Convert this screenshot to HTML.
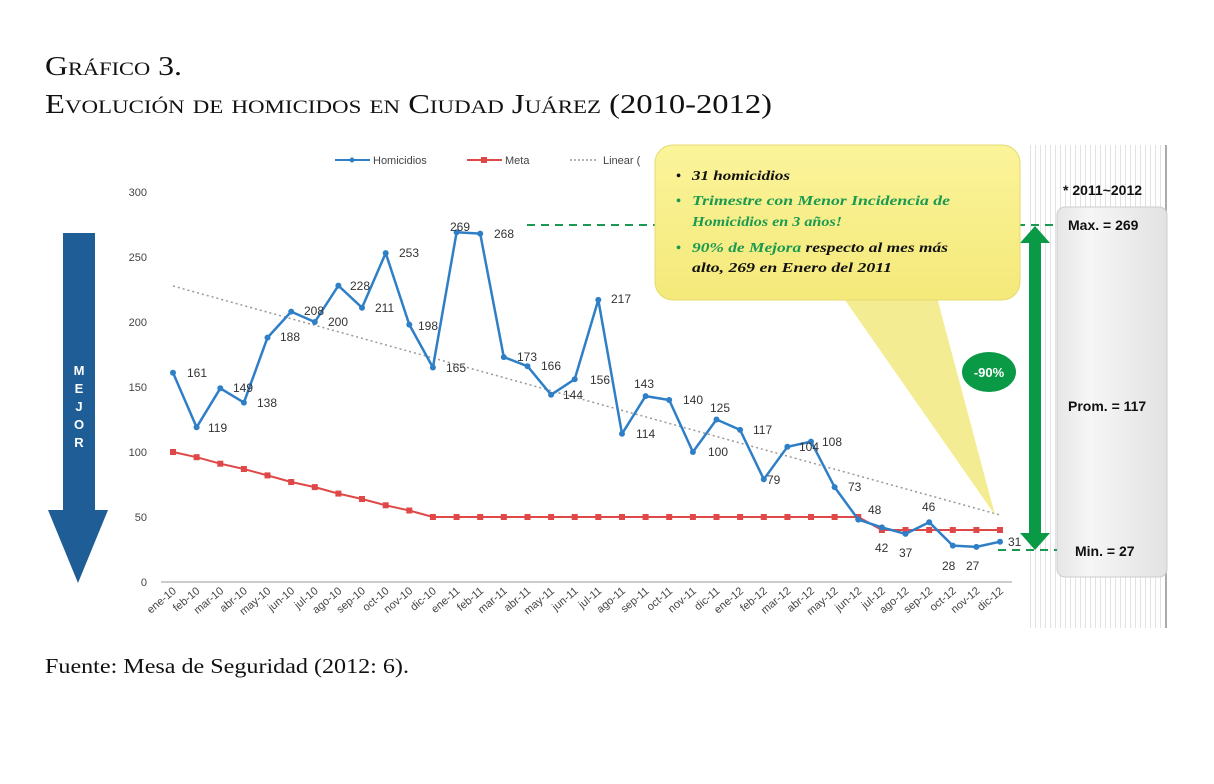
<!DOCTYPE html>
<html><head><meta charset="utf-8"><style>
body{margin:0;background:#fff;width:1214px;height:784px;overflow:hidden}
svg{display:block}
.t{font-family:"Liberation Serif",serif;fill:#111}
.s{font-family:"Liberation Sans",sans-serif}
</style></head><body>
<svg width="1214" height="784" viewBox="0 0 1214 784">
<defs>
<linearGradient id="yg" x1="0" y1="0" x2="0" y2="1"><stop offset="0" stop-color="#fbf49a"/><stop offset="1" stop-color="#f4e97a"/></linearGradient>
<linearGradient id="gg" x1="0" y1="0" x2="1" y2="0"><stop offset="0" stop-color="#e6e6e6"/><stop offset=".3" stop-color="#f6f6f6"/><stop offset="1" stop-color="#e2e2e2"/></linearGradient>
<pattern id="st" width="5" height="10" patternUnits="userSpaceOnUse"><rect width="5" height="10" fill="#fff"/><rect width="1" height="10" fill="#e2e2e2"/></pattern>
</defs>
<text class="t" x="45" y="75" font-size="27" style="font-variant:small-caps" textLength="137" lengthAdjust="spacingAndGlyphs">Gráfico 3.</text>
<text class="t" x="45" y="113" font-size="27" style="font-variant:small-caps" textLength="727" lengthAdjust="spacingAndGlyphs">Evolución de homicidos en Ciudad Juárez (2010-2012)</text>
<text class="t" x="45" y="673" font-size="21" textLength="364" lengthAdjust="spacingAndGlyphs">Fuente: Mesa de Seguridad (2012: 6).</text>

<rect x="1030" y="145" width="136" height="483" fill="url(#st)"/>
<line x1="1166" y1="145" x2="1166" y2="628" stroke="#aaa" stroke-width="2"/>
<rect x="1057" y="207" width="110" height="370" rx="8" fill="url(#gg)" stroke="#ccc"/>
<g class="s" font-weight="bold" font-size="14" fill="#111">
<text x="1063" y="195">* 2011~2012</text>
<text x="1068" y="230">Max. = 269</text>
<text x="1068" y="411">Prom. = 117</text>
<text x="1075" y="556">Min. = 27</text>
</g>

<g class="s" font-size="11" fill="#444" text-anchor="end">
<text x="147" y="196">300</text><text x="147" y="261">250</text><text x="147" y="326">200</text><text x="147" y="391">150</text><text x="147" y="456">100</text><text x="147" y="521">50</text><text x="147" y="586">0</text>
</g>
<line x1="161" y1="582" x2="1012" y2="582" stroke="#999"/>

<polygon points="63,233 95,233 95,510 108,510 78,583 48,510 63,510" fill="#1f5d96"/>
<g class="s" font-weight="bold" font-size="13" fill="#fff" text-anchor="middle">
<text x="79" y="375">M</text><text x="79" y="393">E</text><text x="79" y="411">J</text><text x="79" y="429">O</text><text x="79" y="447">R</text>
</g>

<g class="s" font-size="11" fill="#444">
<line x1="335" y1="160" x2="370" y2="160" stroke="#2f7fc7" stroke-width="2"/><circle cx="352" cy="160" r="2.5" fill="#2f7fc7"/>
<text x="373" y="164">Homicidios</text>
<line x1="467" y1="160" x2="502" y2="160" stroke="#e04848" stroke-width="2"/><rect x="481" y="157" width="6" height="6" fill="#e04848"/>
<text x="505" y="164">Meta</text>
<line x1="570" y1="160" x2="598" y2="160" stroke="#999" stroke-width="1.5" stroke-dasharray="2,2"/>
<text x="603" y="164">Linear (</text>
</g>

<line x1="173" y1="286" x2="1000" y2="515" stroke="#999" stroke-width="1.5" stroke-dasharray="2,3"/>

<polyline fill="none" stroke="#e04848" stroke-width="2" points="173,452 196.6,457.2 220.3,463.7 243.9,469 267.5,475.4 291.2,482 314.8,487.1 338.4,493.6 362,499 385.7,505.3 409.3,510.5 432.9,517 858.3,517 881.9,530 1000,530"/>
<g fill="#e04848">
<rect x="170" y="449" width="6" height="6"/><rect x="193.6" y="454.2" width="6" height="6"/><rect x="217.3" y="460.7" width="6" height="6"/><rect x="240.9" y="466" width="6" height="6"/><rect x="264.5" y="472.4" width="6" height="6"/><rect x="288.2" y="479" width="6" height="6"/><rect x="311.8" y="484.1" width="6" height="6"/><rect x="335.4" y="490.6" width="6" height="6"/><rect x="359" y="496" width="6" height="6"/><rect x="382.7" y="502.3" width="6" height="6"/><rect x="406.3" y="507.5" width="6" height="6"/>
<rect x="429.9" y="514" width="6" height="6"/><rect x="453.6" y="514" width="6" height="6"/><rect x="477.2" y="514" width="6" height="6"/><rect x="500.8" y="514" width="6" height="6"/><rect x="524.5" y="514" width="6" height="6"/><rect x="548.1" y="514" width="6" height="6"/><rect x="571.7" y="514" width="6" height="6"/><rect x="595.3" y="514" width="6" height="6"/><rect x="619" y="514" width="6" height="6"/><rect x="642.6" y="514" width="6" height="6"/><rect x="666.2" y="514" width="6" height="6"/><rect x="689.9" y="514" width="6" height="6"/><rect x="713.5" y="514" width="6" height="6"/><rect x="737.1" y="514" width="6" height="6"/><rect x="760.8" y="514" width="6" height="6"/><rect x="784.4" y="514" width="6" height="6"/><rect x="808" y="514" width="6" height="6"/><rect x="831.6" y="514" width="6" height="6"/><rect x="855.3" y="514" width="6" height="6"/>
<rect x="878.9" y="527" width="6" height="6"/><rect x="902.5" y="527" width="6" height="6"/><rect x="926.2" y="527" width="6" height="6"/><rect x="949.8" y="527" width="6" height="6"/><rect x="973.4" y="527" width="6" height="6"/><rect x="997" y="527" width="6" height="6"/>
</g>

<polyline fill="none" stroke="#2f7fc7" stroke-width="2.5" stroke-linejoin="round" points="173,372.7 196.6,427.3 220.3,388.3 243.9,402.6 267.5,337.6 291.2,311.6 314.8,322 338.4,285.6 362,307.7 385.7,253.1 409.3,324.6 432.9,367.5 456.6,232.3 480.2,233.6 503.8,357.1 527.5,366.2 551.1,394.8 574.7,379.2 598.3,299.9 622,433.8 645.6,396.1 669.2,400 692.9,452 716.5,419.5 740.1,429.9 763.8,479.3 787.4,446.8 811,441.6 834.6,487.1 858.3,519.6 881.9,527.4 905.5,533.9 929.2,522.2 952.8,545.6 976.4,546.9 1000,541.7"/>
<g fill="#2f7fc7">
<circle cx="173" cy="372.7" r="3"/><circle cx="196.6" cy="427.3" r="3"/><circle cx="220.3" cy="388.3" r="3"/><circle cx="243.9" cy="402.6" r="3"/><circle cx="267.5" cy="337.6" r="3"/><circle cx="291.2" cy="311.6" r="3"/><circle cx="314.8" cy="322" r="3"/><circle cx="338.4" cy="285.6" r="3"/><circle cx="362" cy="307.7" r="3"/><circle cx="385.7" cy="253.1" r="3"/><circle cx="409.3" cy="324.6" r="3"/><circle cx="432.9" cy="367.5" r="3"/><circle cx="456.6" cy="232.3" r="3"/><circle cx="480.2" cy="233.6" r="3"/><circle cx="503.8" cy="357.1" r="3"/><circle cx="527.5" cy="366.2" r="3"/><circle cx="551.1" cy="394.8" r="3"/><circle cx="574.7" cy="379.2" r="3"/><circle cx="598.3" cy="299.9" r="3"/><circle cx="622" cy="433.8" r="3"/><circle cx="645.6" cy="396.1" r="3"/><circle cx="669.2" cy="400" r="3"/><circle cx="692.9" cy="452" r="3"/><circle cx="716.5" cy="419.5" r="3"/><circle cx="740.1" cy="429.9" r="3"/><circle cx="763.8" cy="479.3" r="3"/><circle cx="787.4" cy="446.8" r="3"/><circle cx="811" cy="441.6" r="3"/><circle cx="834.6" cy="487.1" r="3"/><circle cx="858.3" cy="519.6" r="3"/><circle cx="881.9" cy="527.4" r="3"/><circle cx="905.5" cy="533.9" r="3"/><circle cx="929.2" cy="522.2" r="3"/><circle cx="952.8" cy="545.6" r="3"/><circle cx="976.4" cy="546.9" r="3"/><circle cx="1000" cy="541.7" r="3"/>
</g>
<g class="s" font-size="12" fill="#333">
<text x="187" y="377">161</text><text x="208" y="432">119</text><text x="233" y="392">149</text><text x="257" y="407">138</text><text x="280" y="341">188</text><text x="304" y="315">208</text><text x="328" y="326">200</text><text x="350" y="290">228</text><text x="375" y="312">211</text><text x="399" y="257">253</text><text x="418" y="330">198</text><text x="446" y="372">165</text><text x="450" y="231">269</text><text x="494" y="238">268</text><text x="517" y="361">173</text><text x="541" y="370">166</text><text x="563" y="399">144</text><text x="590" y="384">156</text><text x="611" y="303">217</text><text x="636" y="438">114</text><text x="634" y="388">143</text><text x="683" y="404">140</text><text x="708" y="456">100</text><text x="710" y="412">125</text><text x="753" y="434">117</text><text x="767" y="484">79</text><text x="799" y="451">104</text><text x="822" y="446">108</text><text x="848" y="491">73</text><text x="868" y="514">48</text><text x="875" y="552">42</text><text x="899" y="557">37</text><text x="922" y="511">46</text><text x="942" y="570">28</text><text x="966" y="570">27</text><text x="1008" y="546">31</text>
</g>

<g class="s" font-size="11" fill="#444" text-anchor="end">
<text transform="translate(177,592) rotate(-40)">ene-10</text><text transform="translate(200.6,592) rotate(-40)">feb-10</text><text transform="translate(224.3,592) rotate(-40)">mar-10</text><text transform="translate(247.9,592) rotate(-40)">abr-10</text><text transform="translate(271.5,592) rotate(-40)">may-10</text><text transform="translate(295.2,592) rotate(-40)">jun-10</text><text transform="translate(318.8,592) rotate(-40)">jul-10</text><text transform="translate(342.4,592) rotate(-40)">ago-10</text><text transform="translate(366,592) rotate(-40)">sep-10</text><text transform="translate(389.7,592) rotate(-40)">oct-10</text><text transform="translate(413.3,592) rotate(-40)">nov-10</text><text transform="translate(436.9,592) rotate(-40)">dic-10</text><text transform="translate(460.6,592) rotate(-40)">ene-11</text><text transform="translate(484.2,592) rotate(-40)">feb-11</text><text transform="translate(507.8,592) rotate(-40)">mar-11</text><text transform="translate(531.5,592) rotate(-40)">abr-11</text><text transform="translate(555.1,592) rotate(-40)">may-11</text><text transform="translate(578.7,592) rotate(-40)">jun-11</text><text transform="translate(602.3,592) rotate(-40)">jul-11</text><text transform="translate(626,592) rotate(-40)">ago-11</text><text transform="translate(649.6,592) rotate(-40)">sep-11</text><text transform="translate(673.2,592) rotate(-40)">oct-11</text><text transform="translate(696.9,592) rotate(-40)">nov-11</text><text transform="translate(720.5,592) rotate(-40)">dic-11</text><text transform="translate(744.1,592) rotate(-40)">ene-12</text><text transform="translate(767.8,592) rotate(-40)">feb-12</text><text transform="translate(791.4,592) rotate(-40)">mar-12</text><text transform="translate(815,592) rotate(-40)">abr-12</text><text transform="translate(838.6,592) rotate(-40)">may-12</text><text transform="translate(862.3,592) rotate(-40)">jun-12</text><text transform="translate(885.9,592) rotate(-40)">jul-12</text><text transform="translate(909.5,592) rotate(-40)">ago-12</text><text transform="translate(933.2,592) rotate(-40)">sep-12</text><text transform="translate(956.8,592) rotate(-40)">oct-12</text><text transform="translate(980.4,592) rotate(-40)">nov-12</text><text transform="translate(1004,592) rotate(-40)">dic-12</text>
</g>

<line x1="527" y1="225" x2="1057" y2="225" stroke="#1a9a50" stroke-width="2" stroke-dasharray="8,6"/>
<line x1="998" y1="550" x2="1057" y2="550" stroke="#1a9a50" stroke-width="2" stroke-dasharray="8,6"/>
<polygon points="1035,226 1050,243 1041,243 1041,533 1050,533 1035,550 1020,533 1029,533 1029,243 1020,243" fill="#0a9a46"/>
<ellipse cx="989" cy="372" rx="27" ry="20" fill="#0a9a46"/>
<text class="s" x="989" y="377" font-size="13" font-weight="bold" fill="#fff" text-anchor="middle">-90%</text>

<polygon points="838,290 935,290 995,515" fill="#f3ea86" opacity="0.9"/>
<rect x="655" y="145" width="365" height="155" rx="18" fill="url(#yg)" stroke="#e4da70"/>
<g class="t" font-size="14" font-style="italic" font-weight="bold">
<text x="676" y="180">•</text><text x="692" y="180" textLength="98" lengthAdjust="spacingAndGlyphs">31 homicidios</text>
<text x="676" y="205" fill="#1a9a50">•</text><text x="692" y="205" fill="#1a9a50" textLength="258" lengthAdjust="spacingAndGlyphs">Trimestre con Menor Incidencia de</text>
<text x="692" y="226" fill="#1a9a50" textLength="150" lengthAdjust="spacingAndGlyphs">Homicidios en 3 años!</text>
<text x="676" y="252" fill="#1a9a50">•</text><text x="692" y="252" textLength="256" lengthAdjust="spacingAndGlyphs"><tspan fill="#1a9a50">90% de Mejora</tspan> respecto al mes más</text>
<text x="692" y="272" textLength="200" lengthAdjust="spacingAndGlyphs">alto, 269 en Enero del 2011</text>
</g>
</svg>
</body></html>
